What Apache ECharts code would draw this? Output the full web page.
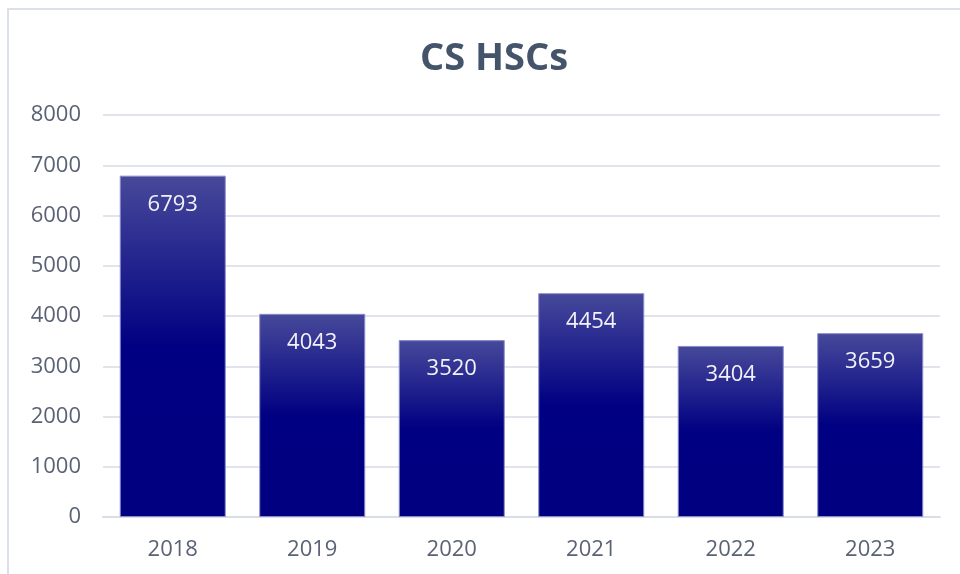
<!DOCTYPE html>
<html>
<head>
<meta charset="utf-8">
<script src="https://cdn.jsdelivr.net/npm/echarts@6/dist/echarts.min.js"></script>
<style>
  html, body { margin: 0; padding: 0; background: #fff; }
  #chart { width: 960px; height: 574px; }
</style>
</head>
<body>
<div id="chart"></div>
<script>
// data
var years = ["2018", "2019", "2020", "2021", "2022", "2023"];
var hscs = [6793, 4043, 3520, 4454, 3404, 3659];
var yTicks = [0, 1000, 2000, 3000, 4000, 5000, 6000, 7000, 8000];

var font = "'Open Sans', 'Noto Sans', sans-serif";
var myChart = echarts.init(document.getElementById("chart"));

var option = {
  backgroundColor: "#fff",
  animation: false,
  title: {
    text: "CS HSCs",
    left: 415,
    top: 35,
    textStyle: { fontFamily: font, fontSize: 38, fontWeight: "bold", color: "#44546A" }
  },
  // outer chart frame
  graphic: [{
    type: "rect",
    shape: { x: 8, y: 9, width: 980, height: 600 },
    style: { fill: "none", stroke: "#DCE0E8", lineWidth: 2 },
    silent: true
  }],
  grid: { left: 103, right: 20, top: 115, bottom: 57 },
  xAxis: {
    type: "category",
    data: years,
    axisTick: { show: false },
    axisLine: { lineStyle: { color: "#D9DDE6", width: 2 } },
    axisLabel: { margin: 22, fontFamily: font, fontSize: 22, color: "#5A6275" }
  },
  yAxis: {
    type: "value",
    min: yTicks[0],
    max: yTicks[yTicks.length - 1],
    interval: 1000,
    axisLine: { show: false },
    axisTick: { show: false },
    splitLine: { lineStyle: { color: "#E1E4EB", width: 2 } },
    axisLabel: {
      margin: 22, fontFamily: font, fontSize: 22, color: "#5A6275",
      formatter: function (v) { return String(v); }
    }
  },
  series: [{
    type: "bar",
    data: hscs,
    barCategoryGap: "24%",
    itemStyle: {
      borderColor: "#8A8CCB",
      borderWidth: 1,
      color: new echarts.graphic.LinearGradient(0, 0, 0, 1, [
        { offset: 0, color: "#47499A" },
        { offset: 0.5, color: "#000082" },
        { offset: 1, color: "#000080" }
      ])
    },
    label: {
      show: true,
      position: "insideTop",
      distance: 18,
      fontFamily: font,
      fontSize: 22,
      color: "#F2F2F8"
    }
  }]
};

myChart.setOption(option);
</script>
</body>
</html>
